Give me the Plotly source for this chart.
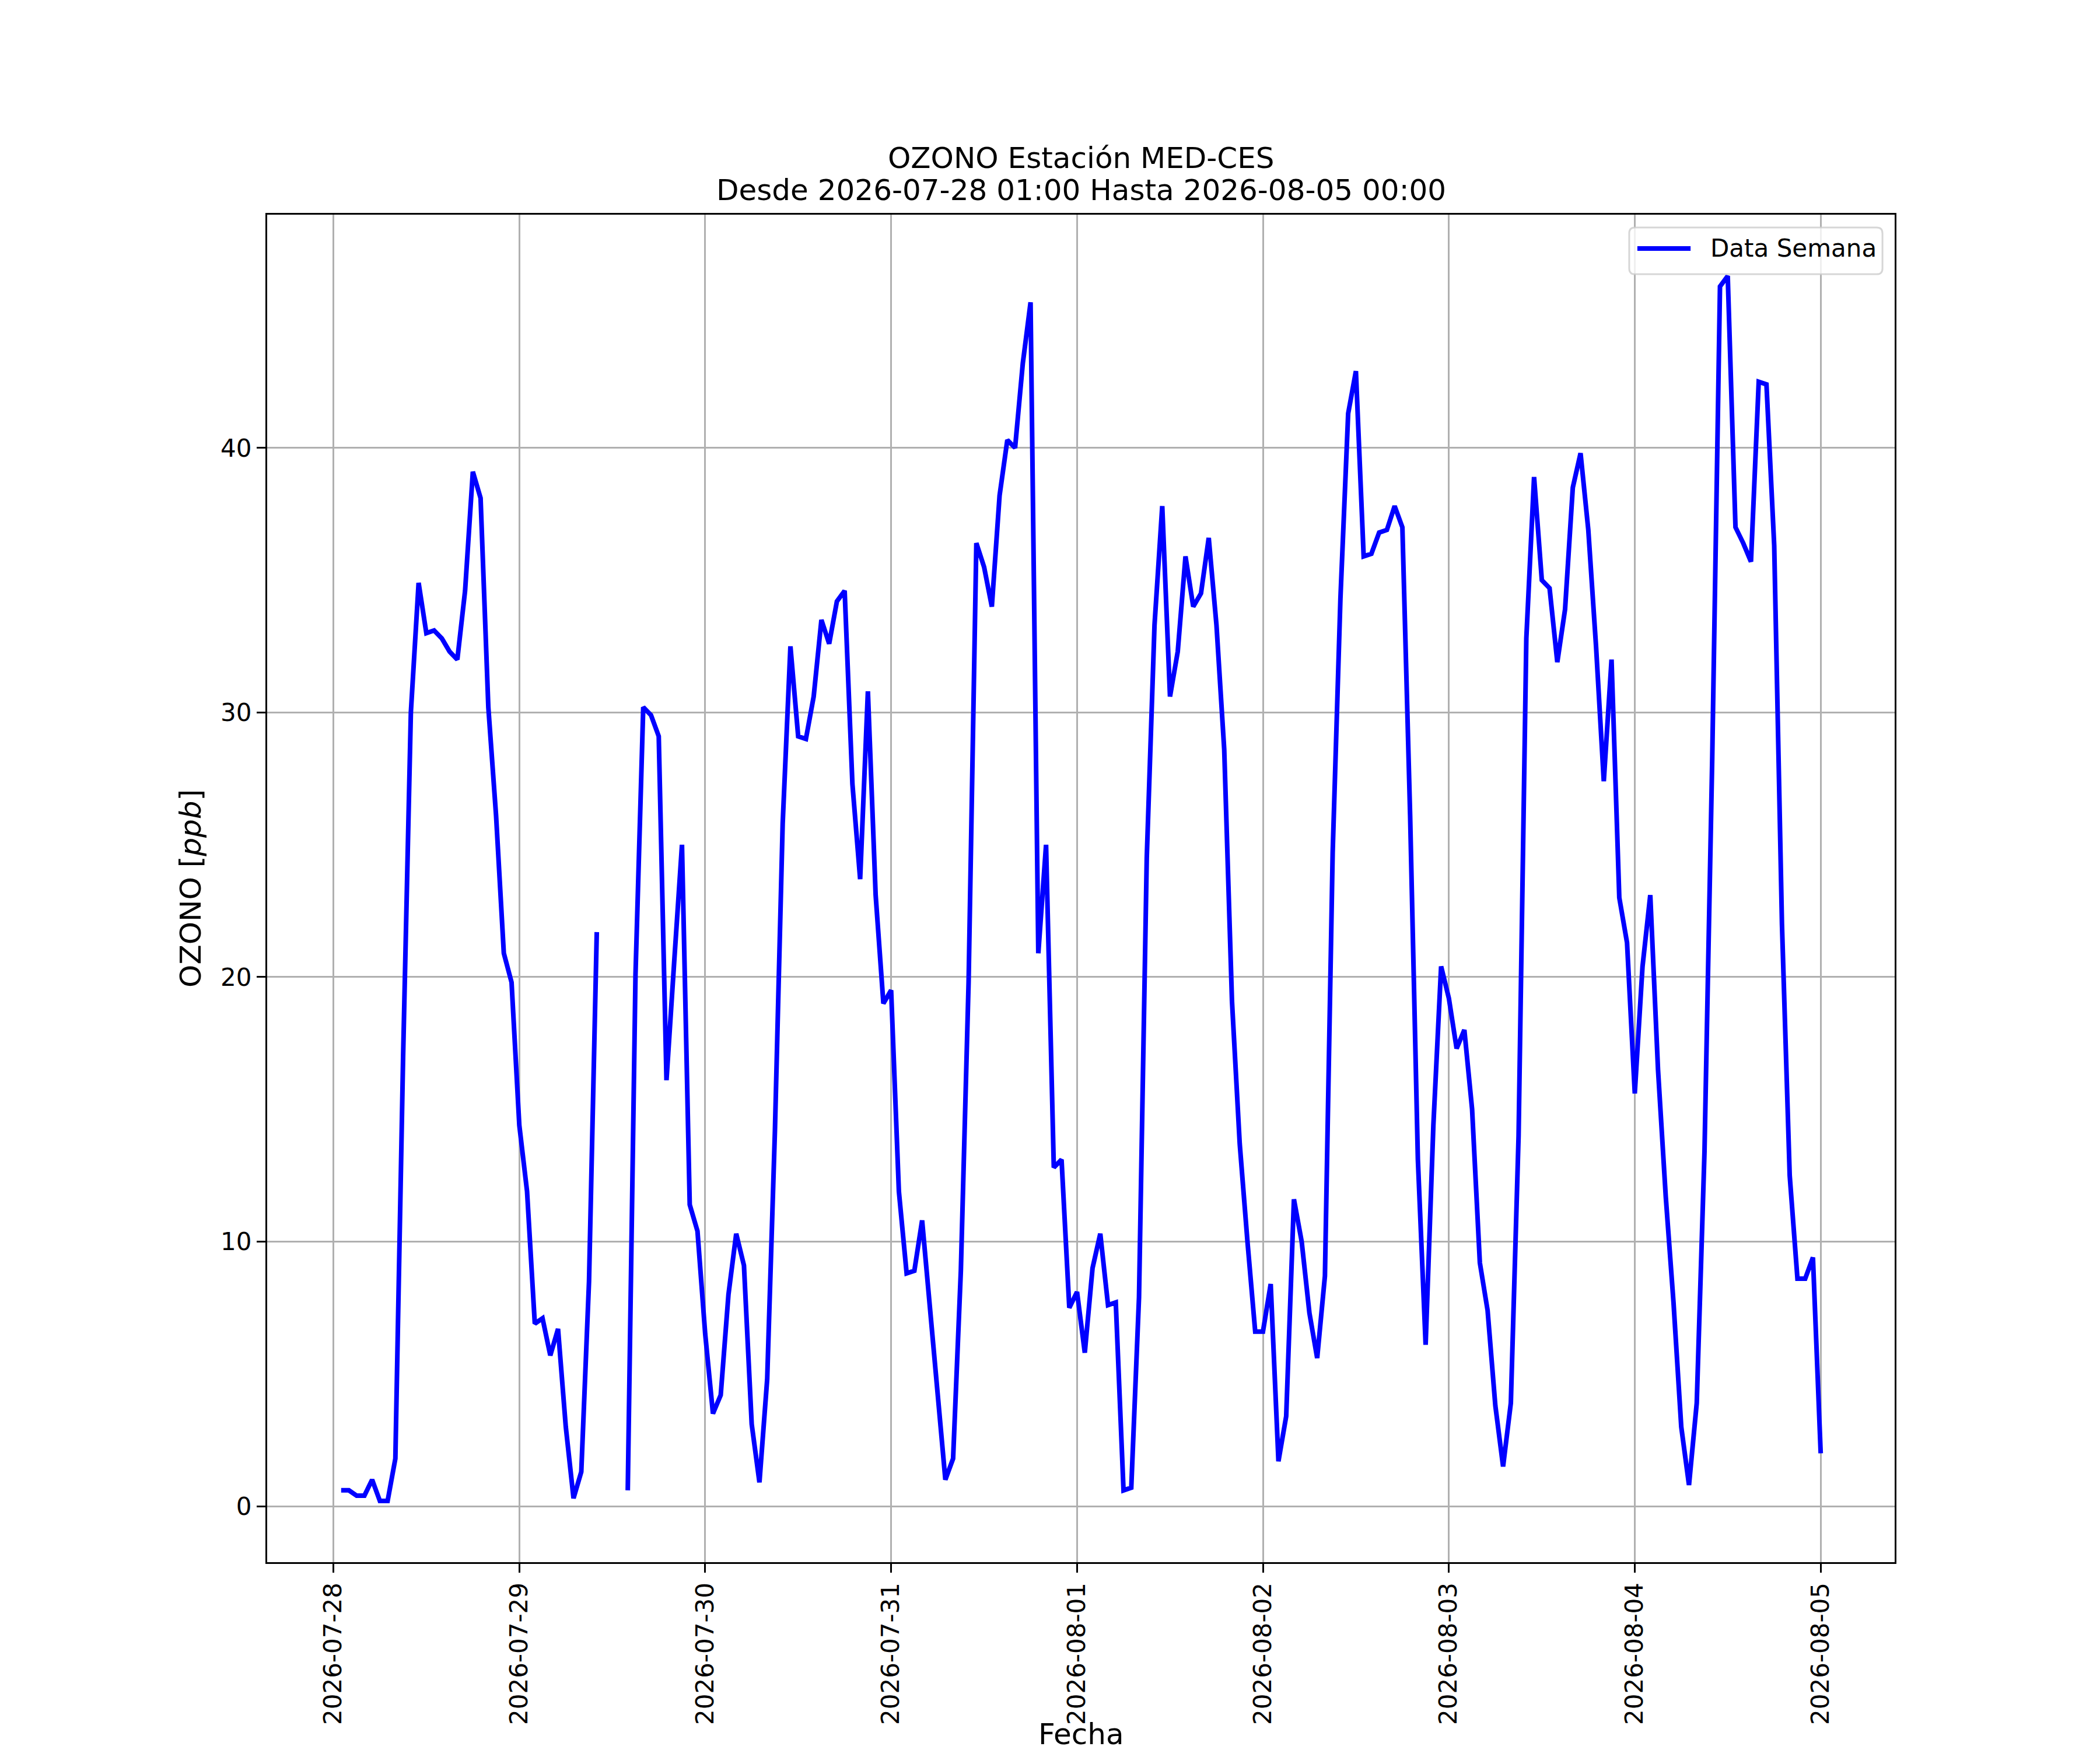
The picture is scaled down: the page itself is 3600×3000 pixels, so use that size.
import numpy as np
import pandas as pd
import plotly.graph_objects as go

# Datos horarios de ozono, 2026-07-28 01:00 .. 2026-08-05 00:00 (None = sin dato)
dia_0728 = [0.6, 0.6, 0.4, 0.4, 1.0, 0.2, 0.2, 1.8, 17.0, 30.0, 34.9, 33.0,
            33.1, 32.8, 32.3, 32.0, 34.6, 39.1, 38.1, 30.2, 26.1, 20.9, 19.8, 14.4]
dia_0729 = [11.9, 6.9, 7.1, 5.7, 6.7, 3.0, 0.3, 1.3, 8.5, 21.7, None, None,
            None, 0.6, 20.1, 30.2, 29.9, 29.1, 16.1, 20.6, 25.0, 11.4, 10.4, 6.5]
dia_0730 = [3.5, 4.2, 8.0, 10.3, 9.1, 3.1, 0.9, 4.8, 14.2, 25.8, 32.5, 29.1,
            29.0, 30.6, 33.5, 32.6, 34.2, 34.6, 27.3, 23.7, 30.8, 23.1, 19.0, 19.5]
dia_0731 = [11.9, 8.8, 8.9, 10.8, 7.4, 4.1, 1.0, 1.8, 8.9, 19.8, 36.4, 35.5,
            34.0, 38.2, 40.3, 40.0, 43.2, 45.5, 20.9, 25.0, 12.8, 13.1, 7.5, 8.1]
dia_0801 = [5.8, 9.0, 10.3, 7.6, 7.7, 0.6, 0.7, 7.9, 24.5, 33.3, 37.8, 30.6,
            32.3, 35.9, 34.0, 34.5, 36.6, 33.3, 28.6, 19.1, 13.7, 10.0, 6.6, 6.6]
dia_0802 = [8.4, 1.7, 3.4, 11.6, 10.0, 7.3, 5.6, 8.7, 24.7, 34.3, 41.3, 42.9,
            35.9, 36.0, 36.8, 36.9, 37.8, 37.0, 26.1, 13.1, 6.1, 14.4, 20.4, 19.2]
dia_0803 = [17.3, 18.0, 15.0, 9.2, 7.4, 3.8, 1.5, 3.9, 14.0, 32.8, 38.9, 35.0,
            34.7, 31.9, 33.9, 38.5, 39.8, 36.9, 32.5, 27.4, 32.0, 23.0, 21.3, 15.6]
dia_0804 = [20.4, 23.1, 16.5, 11.7, 7.7, 3.0, 0.8, 3.9, 13.4, 28.3, 46.1, 46.5,
            37.0, 36.4, 35.7, 42.5, 42.4, 36.3, 22.0, 12.5, 8.6, 8.6, 9.4, 2.0]

ozono = (dia_0728 + dia_0729 + dia_0730 + dia_0731 +
         dia_0801 + dia_0802 + dia_0803 + dia_0804)
fechas = pd.date_range("2026-07-28 01:00", "2026-08-05 00:00", freq="h")

dias_ticks = ["2026-07-28", "2026-07-29", "2026-07-30", "2026-07-31", "2026-08-01",
              "2026-08-02", "2026-08-03", "2026-08-04", "2026-08-05"]
y_ticks = [0, 10, 20, 30, 40]

titulo_1 = "OZONO Estación MED-CES"
titulo_2 = "Desde 2026-07-28 01:00 Hasta 2026-08-05 00:00"
nombre_serie = "Data Semana"
etiqueta_x = "Fecha"
etiqueta_y = "OZONO [<i>ppb</i>]"

# rangos con margen del 5% (como matplotlib)
vals = np.array([np.nan if v is None else v for v in ozono])
ymin, ymax = np.nanmin(vals), np.nanmax(vals)
ypad = 0.05 * (ymax - ymin)
xspan = fechas[-1] - fechas[0]
xr = [fechas[0] - 0.05 * xspan, fechas[-1] + 0.05 * xspan]

FONT = "DejaVu Sans"
AZUL = "#0000ff"

fig = go.Figure()
fig.add_trace(go.Scatter(
    x=fechas, y=ozono, mode="lines", name=nombre_serie,
    line=dict(color=AZUL, width=8), connectgaps=False, showlegend=False,
))

ejes = dict(
    showline=True, mirror=True, linecolor="black", linewidth=3.3,
    ticks="outside", ticklen=15, tickwidth=3.3, tickcolor="black",
    showgrid=True, gridcolor="#b0b0b0", gridwidth=3.3, zeroline=False,
    tickfont=dict(family=FONT, size=42, color="black"), automargin=False,
)

fig.update_xaxes(type="date", range=xr, tickvals=dias_ticks, ticktext=dias_ticks,
                 tickangle=-90, **ejes)
fig.update_yaxes(
    range=[ymin - ypad, ymax + ypad], tickvals=y_ticks,
    title=dict(text=etiqueta_y, font=dict(family=FONT, size=50, color="black"), standoff=18),
    **ejes,
)

# etiqueta del eje x pegada al borde inferior
fig.add_annotation(text=etiqueta_x, xref="paper", yref="paper", x=0.5, y=0, yshift=-326,
                   yanchor="bottom", showarrow=False, font=dict(family=FONT, size=50, color="black"))

# titulo en dos lineas
fig.add_annotation(text=titulo_1, xref="paper", yref="paper", x=0.5, y=1, yshift=97,
                   yanchor="middle", showarrow=False, font=dict(family=FONT, size=50, color="black"))
fig.add_annotation(text=titulo_2, xref="paper", yref="paper", x=0.5, y=1, yshift=42,
                   yanchor="middle", showarrow=False, font=dict(family=FONT, size=50, color="black"))

# leyenda estilo matplotlib (caja redondeada, arriba a la derecha)
x0, x1, y0, y1 = 0.8369, 0.9925, 0.9558, 0.9905
rx, ry = 0.0036, 0.0043
caja = (f"M{x0+rx},{y0} L{x1-rx},{y0} Q{x1},{y0} {x1},{y0+ry} "
        f"L{x1},{y1-ry} Q{x1},{y1} {x1-rx},{y1} L{x0+rx},{y1} Q{x0},{y1} {x0},{y1-ry} "
        f"L{x0},{y0+ry} Q{x0},{y0} {x0+rx},{y0} Z")
fig.add_shape(type="path", path=caja, xref="paper", yref="paper",
              fillcolor="rgba(255,255,255,0.8)", line=dict(color="rgba(204,204,204,0.8)", width=3))
fig.add_shape(type="line", xref="paper", yref="paper", x0=0.8419, x1=0.8746, y0=0.9749, y1=0.9749,
              line=dict(color=AZUL, width=8))
fig.add_annotation(text=nombre_serie, xref="paper", yref="paper", x=0.8860, y=0.9749,
                   xanchor="left", yanchor="middle", showarrow=False,
                   font=dict(family=FONT, size=42, color="black"))

fig.update_layout(
    width=3600, height=3000,
    margin=dict(l=450, r=360, t=360, b=330),
    paper_bgcolor="white", plot_bgcolor="white",
    font=dict(family=FONT, color="black"),
    showlegend=False,
)

fig.write_html("out.html")
